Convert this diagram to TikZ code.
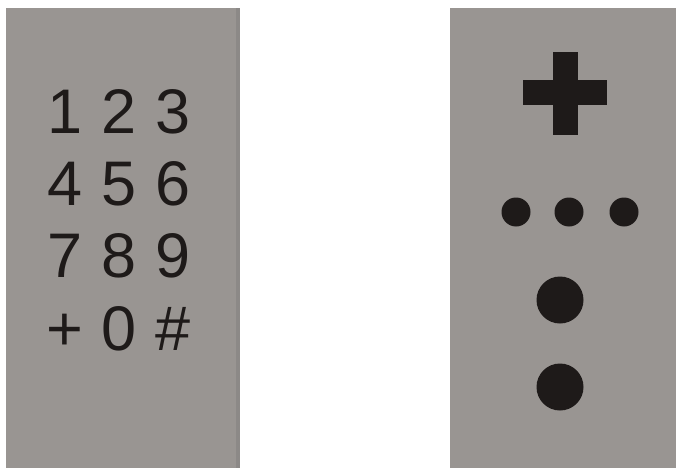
\documentclass[tikz,border=0pt]{standalone}
\usepackage{fontspec}
\setmainfont{Liberation Sans}
\usepackage{xcolor}
\usetikzlibrary{positioning}
\definecolor{panelgray}{RGB}{153,149,146}
\definecolor{paneledge}{RGB}{140,137,135}
\definecolor{inkblack}{RGB}{30,26,25}

\begin{document}
\begin{tikzpicture}[x=1pt,y=-1pt,
    key/.style={anchor=base, inner sep=0pt, text=inkblack,
                font=\fontsize{63}{63}\selectfont},
    dot/.style={circle, fill=inkblack, inner sep=0pt}]
  \useasboundingbox (0,0) rectangle (676,468);

  % panels
  \fill[panelgray] (6,8) rectangle (240,468);
  \fill[paneledge] (236,8) rectangle (240,468);
  \fill[panelgray] (450,8) rectangle (676,468);

  % keypad
  \node[key] (k1) at (65,133) {1};
  \node[key] (k2) at (119,133) {2};
  \node[key] (k3) at (173,133) {3};
  \node[key] (k4) at (65,205) {4};
  \node[key] (k5) at (119,205) {5};
  \node[key] (k6) at (173,205) {6};
  \node[key] (k7) at (65,277) {7};
  \node[key] (k8) at (119,277) {8};
  \node[key] (k9) at (173,277) {9};
  \node[key] (kplus) at (65,350) {+};
  \node[key] (k0) at (119,350) {0};
  \node[key] (khash) at (173,350) {\#};

  % symbols
  \fill[inkblack] (523,80) rectangle (607,105);
  \fill[inkblack] (553,52) rectangle (578,135);
  \node[dot, minimum size=29pt] (d1) at (516,212) {};
  \node[dot, minimum size=29pt] (d2) at (569,212) {};
  \node[dot, minimum size=29pt] (d3) at (624,212) {};
  \node[dot, minimum size=47pt] (b1) at (560,300) {};
  \node[dot, minimum size=47pt] (b2) at (560,387) {};
\end{tikzpicture}
\end{document}
